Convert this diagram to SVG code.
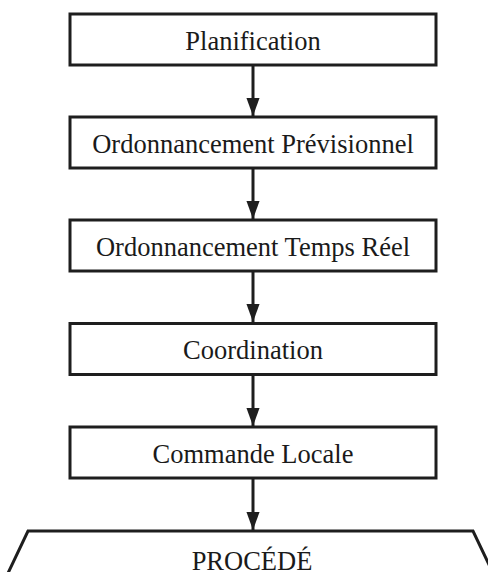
<svg xmlns="http://www.w3.org/2000/svg" width="488" height="572" viewBox="0 0 488 572">
  <style>
    .box { fill: #ffffff; stroke: #1e1e1e; stroke-width: 3; }
    .label { font-family: "Liberation Serif", "Times New Roman", serif; font-size: 26.5px; fill: #1a1a1a; text-anchor: middle; }
    .link { stroke: #1e1e1e; stroke-width: 3; fill: none; }
  </style>
  <defs>
    <marker id="arrow" markerUnits="userSpaceOnUse" markerWidth="18" markerHeight="24" refX="22" refY="8" viewBox="0 0 22 16" orient="auto">
      <path d="M0,0 L22,8 L0,16 Z" fill="#1e1e1e"/>
    </marker>
  </defs>
  <rect width="488" height="572" fill="#ffffff"/>

  <g id="connectors">
    <line class="link" x1="253" y1="65" x2="253" y2="116" marker-end="url(#arrow)"/>
    <line class="link" x1="253" y1="168" x2="253" y2="219" marker-end="url(#arrow)"/>
    <line class="link" x1="253" y1="271" x2="253" y2="322" marker-end="url(#arrow)"/>
    <line class="link" x1="253" y1="375" x2="253" y2="426" marker-end="url(#arrow)"/>
    <line class="link" x1="253" y1="478" x2="253" y2="530" marker-end="url(#arrow)"/>
  </g>

  <g id="planification">
    <rect class="box" x="70" y="14" width="366" height="51"/>
    <text class="label" x="253" y="49.5">Planification</text>
  </g>
  <g id="ordonnancement-previsionnel">
    <rect class="box" x="70" y="117" width="366" height="51"/>
    <text class="label" x="253" y="152.5">Ordonnancement Prévisionnel</text>
  </g>
  <g id="ordonnancement-temps-reel">
    <rect class="box" x="70" y="220" width="366" height="51"/>
    <text class="label" x="253" y="255.5">Ordonnancement Temps Réel</text>
  </g>
  <g id="coordination">
    <rect class="box" x="70" y="323.5" width="366" height="51"/>
    <text class="label" x="253" y="359">Coordination</text>
  </g>
  <g id="commande-locale">
    <rect class="box" x="70" y="427" width="366" height="51"/>
    <text class="label" x="253" y="462.5">Commande Locale</text>
  </g>
  <g id="procede">
    <path class="box" d="M0,590 L28,531 L473,531 L501,590"/>
    <text class="label" x="252" y="570">PROCÉDÉ</text>
  </g>
</svg>
